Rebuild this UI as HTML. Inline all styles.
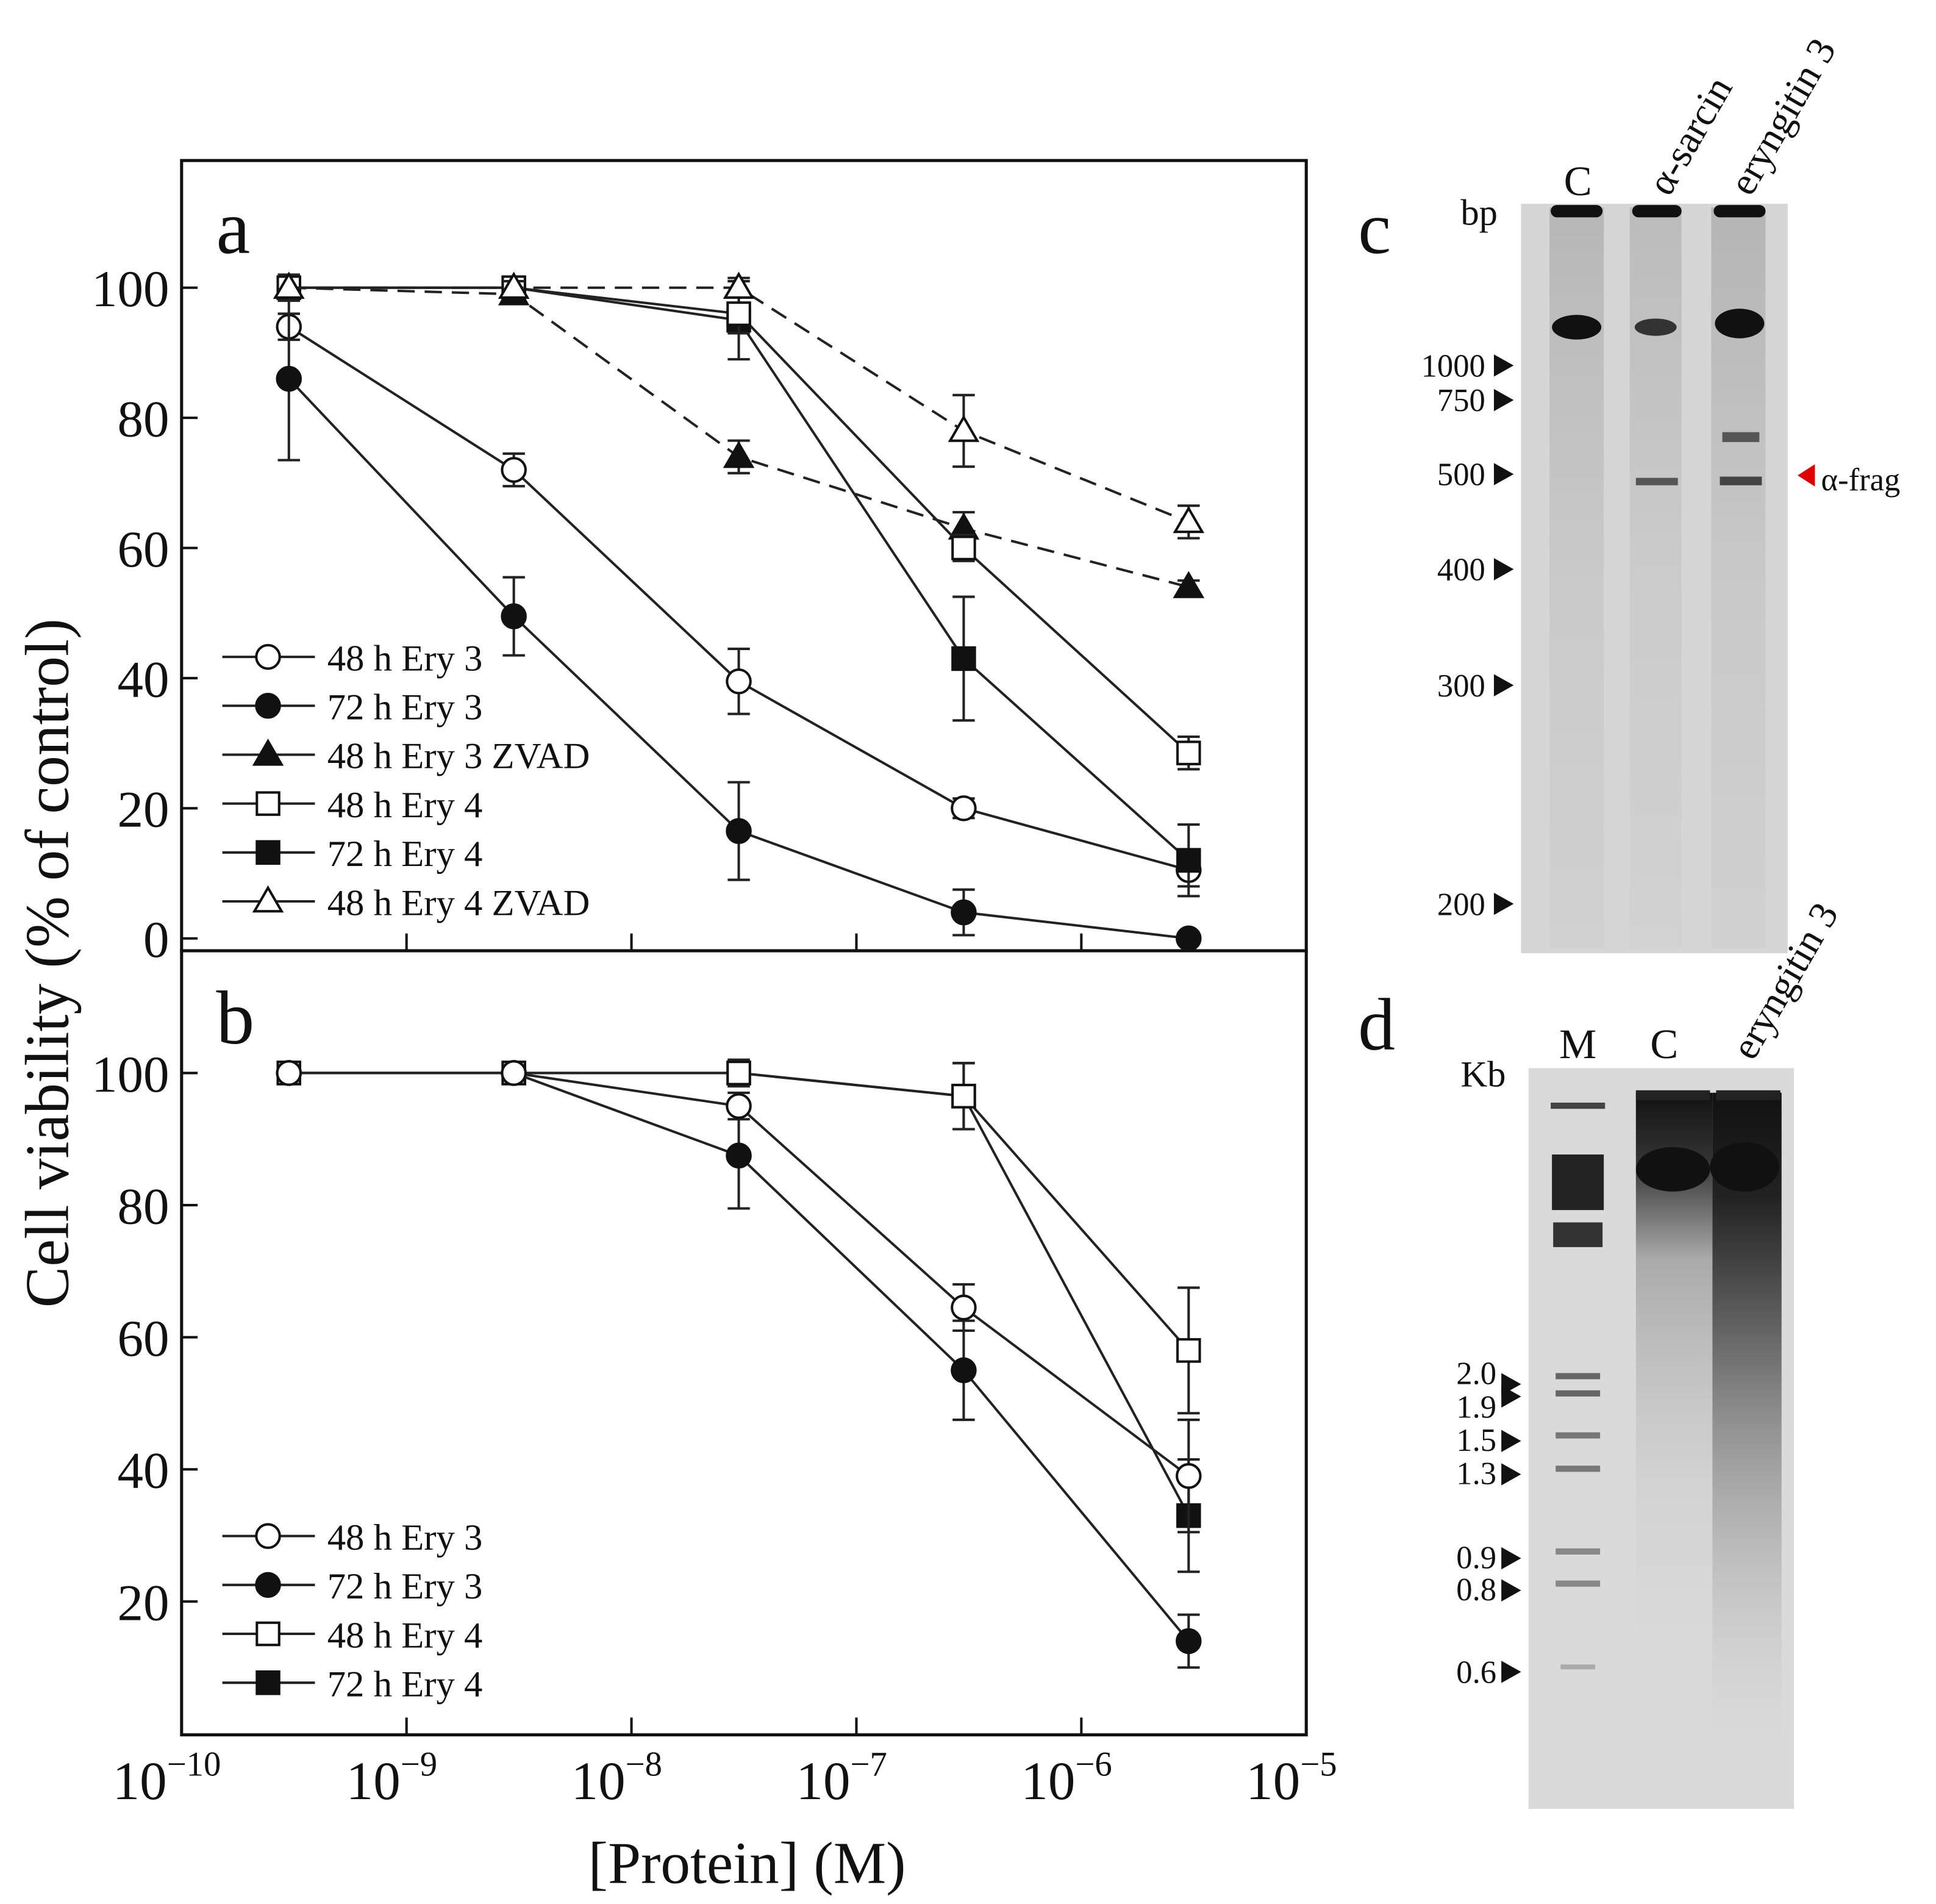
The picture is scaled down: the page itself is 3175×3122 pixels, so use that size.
<!DOCTYPE html>
<html><head><meta charset="utf-8"><style>
html,body{margin:0;padding:0;background:#fff}
svg{display:block}
text{font-family:"Liberation Serif",serif;fill:#111}
</style></head><body>
<svg width="3175" height="3122" viewBox="0 0 1568 1542" xmlns="http://www.w3.org/2000/svg">
<defs>
<linearGradient id="smear" x1="0" y1="0" x2="0" y2="1">
<stop offset="0" stop-color="#111"/><stop offset="0.15" stop-color="#222"/><stop offset="0.45" stop-color="#888"/><stop offset="1" stop-color="#ddd" stop-opacity="0"/></linearGradient>
<linearGradient id="smear2" x1="0" y1="0" x2="0" y2="1">
<stop offset="0" stop-color="#111"/><stop offset="0.1" stop-color="#333"/><stop offset="0.25" stop-color="#aaa"/><stop offset="0.6" stop-color="#ccc" stop-opacity="0.5"/><stop offset="1" stop-color="#ddd" stop-opacity="0"/></linearGradient>
<linearGradient id="lane" x1="0" y1="0" x2="0" y2="1">
<stop offset="0" stop-color="#aaa"/><stop offset="0.5" stop-color="#c4c4c4"/><stop offset="1" stop-color="#cfcfcf"/></linearGradient>
</defs>
<g id="charts"></g>
<text x="605" y="1525" font-size="48" text-anchor="middle">[Protein] (M)</text>
<text transform="translate(55,780) rotate(-90)" font-size="50" text-anchor="middle">Cell viability (% of control)</text>

<!-- gel c -->
<g>
<text x="1100" y="205" font-size="60">c</text>
<text x="1183" y="182" font-size="30">bp</text>
<rect x="1232" y="165" width="216" height="607" fill="#d6d6d6"/>
<rect x="1255" y="168" width="44" height="600" fill="url(#lane)" opacity="0.7"/>
<rect x="1320" y="168" width="42" height="600" fill="url(#lane)" opacity="0.6"/>
<rect x="1386" y="168" width="44" height="600" fill="url(#lane)" opacity="0.75"/>
<rect x="1256" y="166" width="42" height="10" rx="5" fill="#111"/>
<rect x="1322" y="166" width="40" height="10" rx="5" fill="#111"/>
<rect x="1388" y="166" width="42" height="10" rx="5" fill="#111"/>
<ellipse cx="1277" cy="265" rx="20" ry="10" fill="#111"/>
<ellipse cx="1341" cy="265" rx="17" ry="7" fill="#333"/>
<ellipse cx="1409" cy="262" rx="20" ry="12" fill="#111"/>
<rect x="1325" y="387" width="34" height="6" fill="#555"/>
<rect x="1393" y="386" width="34" height="7" fill="#444"/>
<rect x="1395" y="350" width="30" height="8" fill="#555"/>
<text x="1278" y="158" font-size="34" text-anchor="middle">C</text>
<text transform="translate(1352,160) rotate(-60)" font-size="32">α-sarcin</text>
<text transform="translate(1418,160) rotate(-60)" font-size="32">eryngitin 3</text>
<g font-size="26" text-anchor="end">
<text x="1203" y="305">1000</text><text x="1203" y="333">750</text><text x="1203" y="393">500</text>
<text x="1203" y="470">400</text><text x="1203" y="564">300</text><text x="1203" y="741">200</text></g>
<g fill="#111">
<polygon points="1210,287 1226,296 1210,305"/><polygon points="1210,315 1226,324 1210,333"/>
<polygon points="1210,375 1226,384 1210,393"/><polygon points="1210,452 1226,461 1210,470"/>
<polygon points="1210,546 1226,555 1210,564"/><polygon points="1210,723 1226,732 1210,741"/></g>
<polygon points="1470,376 1456,385 1470,394" fill="#e00000"/>
<text x="1475" y="397" font-size="26">α-frag</text>
</g>

<!-- gel d -->
<g>
<text x="1100" y="850" font-size="60">d</text>
<text x="1183" y="880" font-size="30">Kb</text>
<rect x="1238" y="865" width="215" height="600" fill="#dadada"/>
<rect x="1325" y="885" width="62" height="540" fill="url(#smear2)"/>
<rect x="1387" y="885" width="56" height="560" fill="url(#smear)"/>
<ellipse cx="1355" cy="947" rx="30" ry="18" fill="#111"/>
<ellipse cx="1413" cy="945" rx="28" ry="20" fill="#111"/>
<rect x="1325" y="883" width="60" height="8" fill="#222"/>
<rect x="1390" y="883" width="52" height="8" fill="#222"/>
<rect x="1256" y="893" width="44" height="5" fill="#444"/>
<rect x="1257" y="935" width="42" height="45" fill="#222"/>
<rect x="1258" y="990" width="40" height="20" fill="#333"/>
<rect x="1260" y="1112" width="36" height="5" fill="#666"/><rect x="1260" y="1126" width="36" height="5" fill="#666"/>
<rect x="1260" y="1160" width="36" height="5" fill="#777"/><rect x="1260" y="1187" width="36" height="5" fill="#777"/>
<rect x="1260" y="1254" width="36" height="5" fill="#888"/><rect x="1260" y="1280" width="36" height="5" fill="#888"/>
<rect x="1264" y="1348" width="28" height="4" fill="#aaa"/>
<text x="1278" y="857" font-size="34" text-anchor="middle">M</text>
<text x="1348" y="857" font-size="34" text-anchor="middle">C</text>
<text transform="translate(1420,860) rotate(-60)" font-size="32">eryngitin 3</text>
<g font-size="26" text-anchor="end">
<text x="1212" y="1121">2.0</text><text x="1212" y="1148">1.9</text><text x="1212" y="1175">1.5</text>
<text x="1212" y="1202">1.3</text><text x="1212" y="1270">0.9</text><text x="1212" y="1296">0.8</text><text x="1212" y="1363">0.6</text></g>
<g fill="#111">
<polygon points="1216,1112 1232,1121 1216,1130"/><polygon points="1216,1122 1232,1131 1216,1140"/>
<polygon points="1216,1158 1232,1167 1216,1176"/><polygon points="1216,1185 1232,1194 1216,1203"/>
<polygon points="1216,1253 1232,1262 1216,1271"/><polygon points="1216,1279 1232,1288 1216,1297"/>
<polygon points="1216,1345 1232,1354 1216,1363"/></g>
</g>

<script>
const xExp=[-9.523,-8.523,-7.523,-6.523,-5.523];
const xTickExp=[-10,-9,-8,-7,-6,-5];
const yTicksA=[0,20,40,60,80,100];
const yTicksB=[20,40,60,80,100];
const namesA=["48 h Ery 3","72 h Ery 3","48 h Ery 3 ZVAD","48 h Ery 4","72 h Ery 4","48 h Ery 4 ZVAD"];
const symA=["oc","fc","ft","os","fs","ot"];
const dashA=[false,false,true,false,false,true];
const a_e3_48=[94,72,39.5,20,10.5];
const a_e3_72=[86,49.5,16.5,4,0];
const a_e3z_48=[100,99,74,63,54];
const a_e4_48=[100,100,96,60,28.5];
const a_e4_72=[100,100,95,43,12];
const a_e4z_48=[100,100,100,78,64];
const errA=[[2,2.5,5,1.5,2.5],[12.5,6,7.5,3.5,0],[1,1.5,2.5,2.5,1],[1,1,3,2,2.5],[1,1,6,9.5,5.5],[2,1,1.5,5.5,2.5]];
const namesB=["48 h Ery 3","72 h Ery 3","48 h Ery 4","72 h Ery 4"];
const symB=["oc","fc","os","fs"];
const b_e3_48=[100,100,95,64.5,39];
const b_e3_72=[100,100,87.5,55,14];
const b_e4_48=[100,100,100,96.5,58];
const b_e4_72=[100,100,100,96.5,33];
const errB=[[0,0,2,3.5,8.5],[0,0,8,7.5,4],[0,0,2,5,9.5],[0,0,2,5,8.5]];

const NS="http://www.w3.org/2000/svg";
const root=document.getElementById('charts');
function mk(t,at,p){const e=document.createElementNS(NS,t);for(const k in at)e.setAttribute(k,at[k]);(p||root).appendChild(e);return e;}
const X=e=>147+(e+10)*182.2;
function panel(name,top,bot,y0px,y100px,yticks,series,errs,syms,dashes,names,legY,label,order){
  const Y=v=>y0px+(y100px-y0px)*v/100;
  const g=mk('g',{});
  
  
  const fr=mk('rect',{x:147,y:top,width:911,height:bot-top,fill:'none',stroke:'#111','stroke-width':2.5},g);
  
  
  const lb=mk('text',{x:175,y:top+75,'font-size':62},g);lb.textContent=label;
  
  
  yticks.forEach(v=>{mk('line',{x1:147,x2:160,y1:Y(v),y2:Y(v),stroke:'#111','stroke-width':2},g);
    const t=mk('text',{x:137,y:Y(v)+15,'font-size':42,'text-anchor':'end'},g);t.textContent=v;
    
    });
  xTickExp.slice(1,5).forEach(e=>mk('line',{x1:X(e),x2:X(e),y1:bot,y2:bot-14,stroke:'#111','stroke-width':2},g));
  order.forEach(i=>{const s=series[i];
    const pts=s.map((v,j)=>X(xExp[j])+','+Y(v)).join(' ');
    const pl=mk('polyline',{points:pts,fill:'none',stroke:'#222','stroke-width':2,'stroke-dasharray':dashes[i]?'14,8':'none'},g);
    
    
    s.forEach((v,j)=>{const er=errs[i][j];if(er>0){const x=X(xExp[j]);
      mk('line',{x1:x,x2:x,y1:Y(v+er),y2:Y(v-er),stroke:'#222','stroke-width':2},g);
      mk('line',{x1:x-9,x2:x+9,y1:Y(v+er),y2:Y(v+er),stroke:'#222','stroke-width':2},g);
      mk('line',{x1:x-9,x2:x+9,y1:Y(v-er),y2:Y(v-er),stroke:'#222','stroke-width':2},g);}});
    s.forEach((v,j)=>{const m=marker(g,syms[i],X(xExp[j]),Y(v));
      
      });
  });
  names.forEach((n,i)=>{const y=legY+i*39.6;
    mk('line',{x1:180,x2:255,y1:y,y2:y,stroke:'#222','stroke-width':2},g);
    const m=marker(g,syms[i],217,y);
    
    
    const t=mk('text',{x:265,y:y+11,'font-size':30},g);t.textContent=n;
    
    });
}
function marker(g,s,x,y){
  const fill=s[0]=='f'?'#111':'#fff';const at={fill:fill,stroke:'#111','stroke-width':2};
  if(s[1]=='c')return mk('circle',Object.assign({cx:x,cy:y,r:9.5},at),g);
  if(s[1]=='s')return mk('rect',Object.assign({x:x-9,y:y-9,width:18,height:18},at),g);
  return mk('polygon',Object.assign({points:`${x},${y-11} ${x+11},${y+8} ${x-11},${y+8}`},at),g);
}
panel('panel-a',130,770,760,233,yTicksA,[a_e3_48,a_e3_72,a_e3z_48,a_e4_48,a_e4_72,a_e4z_48],errA,symA,dashA,namesA,532,'a',[0,1,2,4,3,5]);
panel('panel-b',770,1405,1404,869,yTicksB,[b_e3_48,b_e3_72,b_e4_48,b_e4_72],errB,symB,[false,false,false,false],namesB,1244,'b',[3,2,1,0]);
xTickExp.forEach(e=>{const t=mk('text',{x:X(e)-12,y:1457,'font-size':44,'text-anchor':'middle'});
  
  
  t.appendChild(document.createTextNode('10'));
  const s=mk('tspan',{dy:-19,'font-size':28},t);s.textContent='\u2212'+Math.abs(e);});
</script>
</svg>
</body></html>
